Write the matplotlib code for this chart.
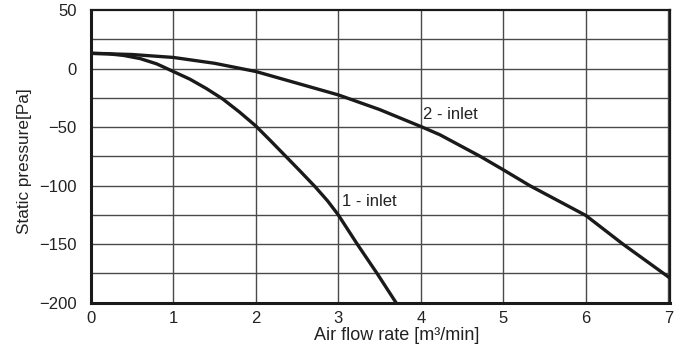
"""Fan static pressure curves for the one- and two-inlet variants."""

import matplotlib

matplotlib.use("Agg")
from matplotlib import pyplot as plt

plt.rcParams["font.family"] = ["Liberation Sans", "DejaVu Sans"]

# 1 - inlet curve (air flow m3/min, static pressure Pa)
flow_1 = [0.0, 0.2, 0.4, 0.6, 0.8, 1.0, 1.2, 1.4, 1.6, 1.8, 2.0, 2.17, 2.35, 2.53, 2.72, 2.87, 3.0,
          3.23, 3.47, 3.70]
pressure_1 = [13, 12.7, 11.2, 8.5, 4, -2.5, -9, -17, -26, -37, -49, -61, -74, -87, -101, -113, -125,
              -150, -175, -200]

# 2 - inlet curve
flow_2 = [0.0, 0.5, 1.0, 1.5, 2.0, 2.5, 3.0, 3.5, 4.0, 4.23, 4.72, 5.0, 5.32, 6.0, 6.45, 7.02]
pressure_2 = [13, 12, 9.5, 4.5, -2.5, -12.5, -22.5, -35, -49.5, -56.5, -75, -86.5, -100, -125.5, -150, -179]

x_ticks = [0, 1, 2, 3, 4, 5, 6, 7]
y_ticks = [-200, -150, -100, -50, 0, 50]
y_grid = [-175, -150, -125, -100, -75, -50, -25, 0, 25]

fig = plt.figure(figsize=(6.83, 3.49), dpi=100)
ax = fig.add_axes((0.1328, 0.1327, 0.981 - 0.1328, 0.9713 - 0.1327))

for x in x_ticks[1:]:
    ax.axvline(x, color="#4a4a4a", linewidth=1.0, zorder=1)
for y in y_grid:
    ax.axhline(y, color="#4a4a4a", linewidth=1.0, zorder=1)

ax.plot(flow_1, pressure_1, color="#1a1a1a", linewidth=2.4, zorder=3)
ax.plot(flow_2, pressure_2, color="#1a1a1a", linewidth=2.4, zorder=3)

ax.text(3.04, -113.5, "1 - inlet", fontsize=12, va="center", ha="left", color="#222222")
ax.text(4.03, -39.5, "2 - inlet", fontsize=12, va="center", ha="left", color="#222222")

ax.set_xlim(0, 7.02)
ax.set_ylim(-200, 50)
ax.set_xticks(x_ticks)
ax.set_yticks(y_ticks)
ax.tick_params(length=0, labelsize=12, colors="#222222")
ax.tick_params(axis="y", pad=10)
ax.tick_params(axis="x", pad=6)

for side in ("left", "bottom"):
    ax.spines[side].set_linewidth(2.2)
for side in ("top", "right"):
    ax.spines[side].set_linewidth(1.6)
for spine in ax.spines.values():
    spine.set_color("#1a1a1a")
    spine.set_zorder(4)

ax.set_xlabel("Air flow rate [m³/min]", fontsize=13, color="#222222", va="top")
ax.xaxis.set_label_coords(0.528, -0.084)
ax.set_ylabel("Static pressure[Pa]", fontsize=12.3, color="#222222", va="bottom")
ax.yaxis.set_label_coords(-0.102, 0.485)

fig.savefig("out.png", dpi=100)
plt.close(fig)
